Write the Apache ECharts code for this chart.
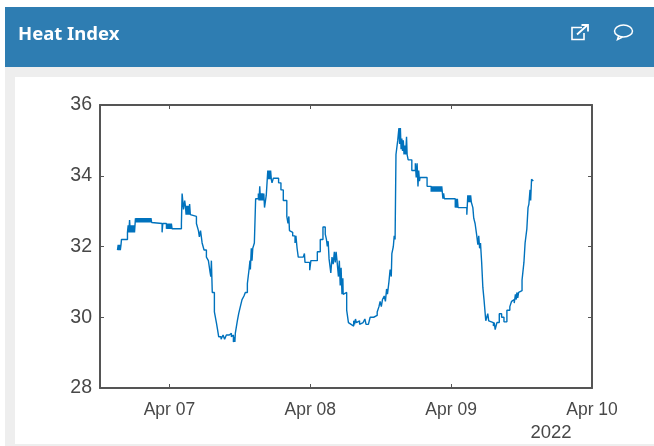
<!DOCTYPE html>
<html><head><meta charset="utf-8">
<style>html,body{margin:0;padding:0;background:#fff}#c{width:654px;height:446px}</style>
<script src="https://cdn.jsdelivr.net/npm/echarts@6/dist/echarts.min.js"></script>
</head><body><div id="c"></div>
<script>
// Readings: [hours relative to Apr 07 00:00, heat index]
const morningApr06 = [[-8.85,31.9],[-8.73,32.05],[-8.61,31.9],[-8.49,32.05],[-8.37,31.9],[-8.25,32.05],[-8.17,32.2],[-7.15,32.4],[-7.03,32.6],[-6.91,32.4],[-6.79,32.75],[-6.67,32.4],[-6.55,32.6],[-6.43,32.4],[-6.31,32.6],[-6.19,32.4],[-6.07,32.6],[-5.95,32.4],[-5.79,32.8],[-5.67,32.68],[-5.55,32.8],[-5.43,32.68],[-5.31,32.8],[-5.19,32.68],[-5.07,32.8],[-4.95,32.68],[-4.83,32.8],[-4.71,32.68],[-4.59,32.8],[-4.47,32.68],[-4.35,32.8],[-4.23,32.68],[-4.11,32.8],[-3.99,32.68],[-3.87,32.8],[-3.75,32.68],[-3.63,32.8],[-3.51,32.68],[-3.39,32.8],[-3.27,32.68],[-3.15,32.8],[-3.03,32.68],[-2.9,32.65],[-1.25,32.4],[-1.13,32.65],[-0.51,32.5],[-0.39,32.65],[-0.27,32.5],[-0.15,32.65],[-0.03,32.5],[0.09,32.65],[0.21,32.5],[0.33,32.65],[0.45,32.5],[2.04,32.65],[2.16,33.5]];
const fallApr07 = [[2.4,33.05],[2.6,33.3],[2.72,33.15],[2.84,32.9],[2.96,33.15],[3.08,32.9],[3.2,33.15],[3.32,32.9],[3.44,33.2],[3.56,32.9],[3.74,32.85],[4.6,32.65],[4.94,32.45],[5.1,32.27],[5.3,32.45],[5.57,32.1],[5.9,31.9],[6.3,31.7],[6.64,31.6],[6.9,31.3],[7.05,31.15],[7.15,31.6],[7.3,30.7],[7.66,30.15],[8,29.85],[8.2,29.65],[8.39,29.45],[8.8,29.38],[9.14,29.5],[9.4,29.38],[9.7,29.5],[10.2,29.45],[10.4,29.55],[10.55,29.45],[10.75,29.5],[10.9,29.3],[11.05,29.45],[11.15,29.3],[11.23,29.55]];
const riseApr07 = [[11.57,29.9],[11.8,30.1],[12.08,30.3],[12.37,30.5],[12.7,30.6],[12.93,30.7],[13.28,30.95],[13.6,31.4],[13.72,31.6],[13.79,31.35],[13.95,31.95],[14.07,31.6],[14.2,31.95],[14.47,32.1],[14.69,33.35],[15.15,33.5],[15.27,33.3],[15.39,33.7],[15.51,33.3],[15.63,33.5],[15.75,33.3],[15.87,33.5],[15.99,33.3],[16.08,33.5],[16.2,33.1],[16.5,33.45],[16.76,34.15],[16.88,33.9],[17,34.15],[17.12,33.9],[17.24,34.15],[17.36,33.9],[17.48,33.8],[17.7,33.93]];
const fallEveningApr07 = [[18.6,33.8],[19,33.6],[19.4,33.3],[20,32.85],[20.2,32.65],[20.35,32.85],[20.45,32.45],[20.7,32.4],[21,32.3],[21.4,32.1],[21.55,32.3],[21.75,31.95],[21.95,31.7],[22.8,31.65],[23,31.8],[23.1,31.55],[23.5,31.55],[23.9,31.33],[24.1,31.6]];
const bumpApr08 = [[25.2,31.85],[25.7,32.2],[26.16,32.55],[26.55,32.35],[26.75,32.2],[26.9,32.0],[27.05,32.15],[27.2,31.65],[27.35,31.45],[27.5,31.25],[27.7,31.7],[27.9,31.5],[28.1,31.85],[28.25,31.55],[28.4,31.85],[28.55,31.6],[28.7,31.65],[28.8,31.15],[28.95,31.6],[29.1,30.9],[29.25,31.4],[29.4,30.65],[29.55,31.1],[29.6,30.65],[29.8,30.7],[30.2,30.2],[30.5,29.85],[30.8,29.8],[30.95,29.75],[31.1,29.85],[31.25,29.75],[31.4,29.9],[31.55,29.8],[31.7,29.95],[31.85,29.85],[32.1,29.9],[32.4,29.8],[32.7,29.85],[33,29.8],[33.3,29.95],[33.5,29.8],[33.9,29.8],[34.2,30],[34.8,30.05],[35.4,30.15],[35.7,30.3],[35.9,30.45],[36.1,30.3],[36.3,30.5],[36.6,30.6],[36.8,30.45],[37,30.8],[37.15,30.65],[37.4,31.0],[37.6,31.35],[37.8,31.15],[37.9,31.8],[38.15,32.0],[38.3,32.3],[38.45,32.2]];
const peakApr08 = [[38.6,34.6],[38.9,35],[39.1,35.35],[39.22,34.9],[39.35,35.35],[39.47,34.75],[39.6,35.05],[39.72,34.7],[39.85,35],[39.97,34.6],[40.1,34.85],[40.25,34.6],[40.4,35.1],[40.5,34.6],[40.68,34.45],[41.3,34.15],[41.9,34.35],[42.05,33.95],[42.2,34.35],[42.35,33.7],[42.47,34.15],[42.6,33.85],[42.7,33.95]];
const plateauApr09 = [[43.9,33.7],[44.6,33.55],[44.72,33.7],[44.84,33.55],[44.96,33.7],[45.08,33.55],[45.2,33.7],[45.32,33.55],[45.44,33.7],[45.56,33.55],[45.68,33.7],[45.8,33.55],[45.92,33.7],[46.04,33.55],[46.16,33.7],[46.28,33.55],[46.4,33.7],[46.6,33.35],[46.72,33.5],[46.84,33.35],[48.7,33.1],[48.82,33.35],[48.94,33.1],[49.06,33.35],[49.18,33.1],[50.67,32.9]];
const fallApr09 = [[50.84,33.45],[50.96,33.25],[51.08,33.45],[51.2,33.25],[51.32,33.45],[51.44,33.25],[51.7,33.1],[51.85,32.8],[52.08,32.65],[52.37,32.3],[52.55,32.05],[52.7,32.3],[52.85,31.95],[53,32.1],[53.2,31.55],[53.4,30.85],[53.6,30.5],[53.9,29.9],[54.1,29.95],[54.24,30.1],[54.4,29.9],[54.63,29.85],[55.2,29.75],[55.35,29.85],[55.5,29.65],[55.8,29.85],[56.2,30.1],[56.6,30],[57,29.87]];
const riseApr09 = [[57.5,30.2],[58,30.3],[58.3,30.45],[58.55,30.5],[58.75,30.4],[58.95,30.65],[59.1,30.5],[59.2,30.7],[59.35,30.55],[59.5,30.7],[59.75,30.75],[60.08,31.05],[60.4,31.55],[60.6,32.1],[60.9,32.5],[61.1,33.1],[61.25,33.2],[61.44,33.6],[61.55,33.3],[61.7,33.9],[62,33.85]];

const xTickHours = [0,24,48,72];
const xTickLabels = ['Apr 07','Apr 08','Apr 09','Apr 10'];
const yearLabel = '2022';
const chartTitle = 'Heat Index';
const yMin = 28, yMax = 36, yStep = 2;
const xMinHours = -11.83, xMaxHours = 72;

const readings = [].concat(morningApr06,fallApr07,riseApr07,fallEveningApr07,bumpApr08,peakApr08,plateauApr09,fallApr09,riseApr09);
const frame = '#555555', txt = '#484848', blue = '#0072BD';

const xBase = {type:'value',min:xMinHours,max:xMaxHours,splitLine:{show:false},
  axisLine:{show:true,onZero:false,lineStyle:{color:frame,width:2}},
  axisTick:{show:true,inside:true,length:4,customValues:xTickHours,lineStyle:{color:frame,width:1}}};
const yBase = {type:'value',min:yMin,max:yMax,interval:yStep,splitLine:{show:false},
  axisLine:{show:true,onZero:false,lineStyle:{color:frame,width:2}},
  axisTick:{show:true,inside:true,length:4,lineStyle:{color:frame,width:1}}};

const chart = echarts.init(document.getElementById('c'),null,{renderer:'canvas'});
chart.setOption({
  animation:false,
  backgroundColor:'#fff',
  grid:{left:100,right:62,top:105,bottom:58,containLabel:false},
  title:{text:chartTitle,left:18,top:25,padding:0,textStyle:{color:'#fff',fontFamily:'Noto Sans',fontWeight:'bold',fontSize:18.5},z:10},
  xAxis:[
    Object.assign({},xBase,{position:'bottom',axisLabel:{show:true,customValues:xTickHours,margin:13,hideOverlap:false,showMinLabel:true,showMaxLabel:true,
      color:txt,fontFamily:'Liberation Sans',fontSize:17.5,
      formatter:v=>xTickLabels[xTickHours.indexOf(v)]||''}}),
    Object.assign({},xBase,{position:'top',axisLabel:{show:false}})
  ],
  yAxis:[
    Object.assign({},yBase,{position:'left',axisLabel:{show:true,margin:8,color:txt,fontFamily:'Liberation Sans',fontSize:19.5}}),
    Object.assign({},yBase,{position:'right',axisLabel:{show:false}})
  ],
  series:[{type:'line',xAxisIndex:0,yAxisIndex:0,step:'end',showSymbol:false,symbol:'none',
    lineStyle:{color:blue,width:1.4},
    data:readings,z:5}],
  graphic:[
    {type:'rect',z:-10,silent:true,shape:{x:5,y:7,width:649,height:60},style:{fill:'#2e7db2'}},
    {type:'rect',z:-10,silent:true,shape:{x:5,y:67,width:649,height:379},style:{fill:'#eeeeee'}},
    {type:'rect',z:-9,silent:true,shape:{x:15,y:77,width:639,height:367},style:{fill:'#ffffff'}},
    {type:'polyline',z:20,silent:true,shape:{points:[[582,27.5],[572,27.5],[572,39.5],[584,39.5],[584,33]]},style:{fill:null,stroke:'#fff',lineWidth:1.6}},
    {type:'polyline',z:20,silent:true,shape:{points:[[577,34.5],[587,25.5]]},style:{fill:null,stroke:'#fff',lineWidth:1.8}},
    {type:'polyline',z:20,silent:true,shape:{points:[[581.5,25],[588,25],[588,31.5]]},style:{fill:null,stroke:'#fff',lineWidth:1.8}},
    {type:'ellipse',z:20,silent:true,shape:{cx:623.5,cy:31,rx:9,ry:6},style:{fill:null,stroke:'#fff',lineWidth:1.5}},
    {type:'polyline',z:20,silent:true,shape:{points:[[618.6,36],[617.5,39.5],[622.5,37]]},style:{fill:null,stroke:'#fff',lineWidth:1.5}},
    {type:'text',z:20,silent:true,style:{text:yearLabel,x:551,y:433,align:'center',verticalAlign:'middle',fill:txt,fontFamily:'Liberation Sans',fontSize:18.5}}
  ]
});
</script></body></html>
